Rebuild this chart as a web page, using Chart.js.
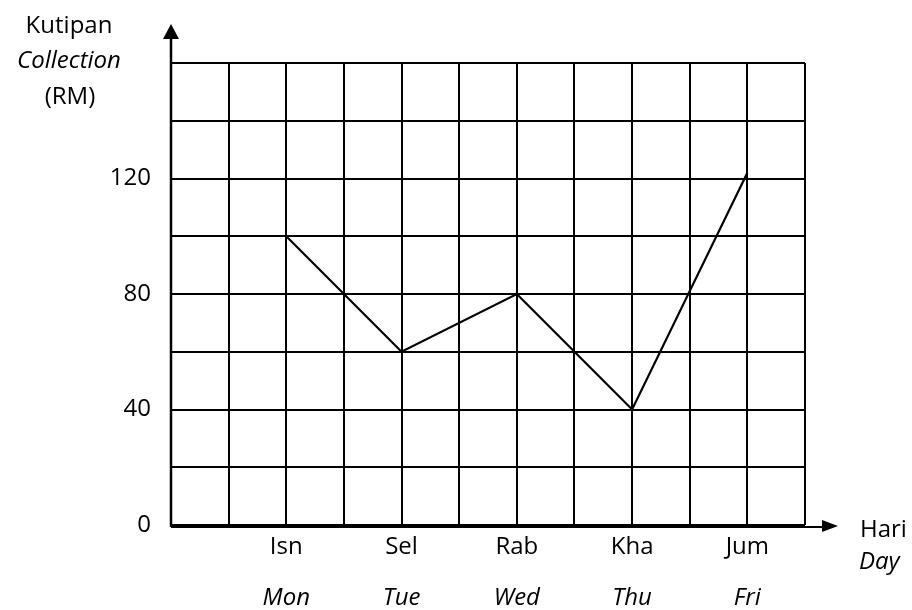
<!DOCTYPE html>
<html>
<head>
<meta charset="utf-8">
<script src="https://cdn.jsdelivr.net/npm/chart.js@4"></script>
<style>
  body { margin: 0; background: #fff; }
  canvas { display: block; }
</style>
</head>
<body>
<canvas id="collectionChart" width="912" height="610"></canvas>
<script>
// Data
const days = ['Isn', 'Sel', 'Rab', 'Kha', 'Jum'];
const daysEn = ['Mon', 'Tue', 'Wed', 'Thu', 'Fri'];
const collection = [100, 60, 80, 40, 122];
const yLabels = [0, 40, 80, 120];

// each day sits on every second grid column, starting at column 2
const dayPos = days.map((d, i) => 2 + i * 2);

const FONT = '"Open Sans", "DejaVu Sans", sans-serif';
const SIZE = 24;

// Arrows, x labels and axis titles
const extrasPlugin = {
    id: 'extras',
    afterDraw(chart) {
        const ctx = chart.ctx;
        const area = chart.chartArea;
        const xs = chart.scales.x;
        const plain = SIZE + 'px ' + FONT;
        const italic = 'italic ' + SIZE + 'px ' + FONT;
        ctx.save();
        ctx.strokeStyle = '#000';
        ctx.fillStyle = '#000';
        ctx.lineWidth = 2.5;

        // y axis with arrow
        ctx.beginPath();
        ctx.moveTo(area.left, area.bottom + 2);
        ctx.lineTo(area.left, 36);
        ctx.stroke();
        ctx.beginPath();
        ctx.moveTo(area.left, 24);
        ctx.lineTo(area.left - 8, 39);
        ctx.lineTo(area.left + 8, 39);
        ctx.closePath();
        ctx.fill();

        // x axis with arrow
        ctx.lineWidth = 2;
        ctx.beginPath();
        ctx.moveTo(area.left, area.bottom + 2);
        ctx.lineTo(826, area.bottom + 2);
        ctx.stroke();
        ctx.beginPath();
        ctx.moveTo(838, area.bottom + 1);
        ctx.lineTo(822, area.bottom - 5);
        ctx.lineTo(822, area.bottom + 7);
        ctx.closePath();
        ctx.fill();

        // x tick labels
        ctx.textAlign = 'center';
        ctx.textBaseline = 'middle';
        days.forEach((d, i) => {
            const x = xs.getPixelForValue(dayPos[i]);
            ctx.font = plain;
            ctx.fillText(d, x, 547);
            ctx.font = italic;
            ctx.fillText(daysEn[i], x, 598);
        });

        // y title
        ctx.font = plain;
        ctx.fillText('Kutipan', 69, 26);
        ctx.font = italic;
        ctx.fillText('Collection', 69, 61);
        ctx.font = plain;
        ctx.fillText('(RM)', 70, 97);

        // x title
        ctx.textAlign = 'left';
        ctx.fillText('Hari', 860, 530);
        ctx.font = italic;
        ctx.fillText('Day', 859, 562);
        ctx.restore();
    }
};

new Chart(document.getElementById('collectionChart'), {
    type: 'line',
    data: {
        datasets: [{
            data: dayPos.map((x, i) => ({ x: x, y: collection[i] })),
            borderColor: '#000',
            borderWidth: 2.2,
            pointRadius: 0,
            tension: 0,
            fill: false
        }]
    },
    options: {
        responsive: false,
        animation: false,
        layout: {
            padding: { left: 0, top: 63, right: 107, bottom: 0 }
        },
        plugins: {
            legend: { display: false },
            tooltip: { enabled: false }
        },
        scales: {
            x: {
                type: 'linear',
                min: 0,
                max: 11,
                ticks: { stepSize: 1, display: false },
                grid: { color: '#000', lineWidth: 2, drawTicks: false },
                border: { display: false },
                afterFit(scale) { scale.height = 85; }
            },
            y: {
                min: 0,
                max: 160,
                ticks: {
                    stepSize: 20,
                    padding: 20,
                    color: '#000',
                    font: { family: FONT, size: SIZE },
                    callback: v => yLabels.includes(v) ? String(v) : ''
                },
                grid: { color: '#000', lineWidth: 2, drawTicks: false },
                border: { display: false },
                afterFit(scale) { scale.width = 171; }
            }
        }
    },
    plugins: [extrasPlugin]
});
</script>
</body>
</html>
